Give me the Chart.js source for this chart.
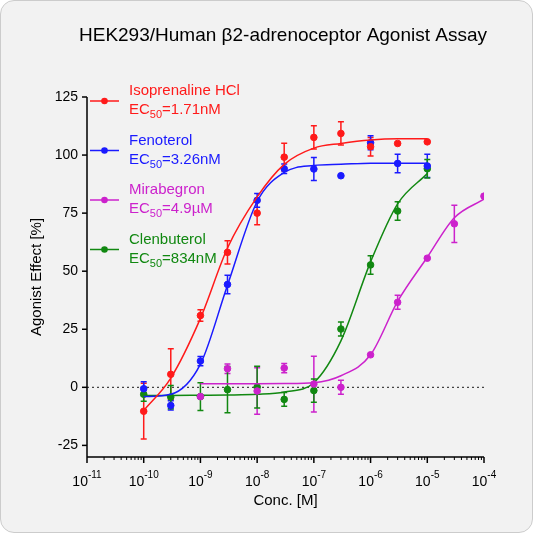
<!DOCTYPE html><html><head><script src="https://cdn.jsdelivr.net/npm/chart.js@4/dist/chart.umd.min.js"></script>
<style>body{margin:0;background:#fff}#w{width:531px;height:531px;border:1px solid #ccc;border-radius:14px;background:#f2f2f2;overflow:hidden}</style></head><body><div id="w"><canvas id="c" width="531" height="531"></canvas></div><script>
const doses=[1e-10,3e-10,1e-9,3e-9,1e-8,3e-8,1e-7,3e-7,1e-6,3e-6,1e-5];
const mDoses=[1e-9,3e-9,1e-8,3e-8,1e-7,3e-7,1e-6,3e-6,1e-5,3e-5,1e-4];
const isoY=[-10.3,5.6,30.9,58.1,75,99.1,107.6,109.3,103.6,105,105.7];
const isoE=[12,11,2.5,5,5,6,5,5,4,0,0];
const fenY=[-0.6,-7.8,11.3,44.3,80.5,94.1,94,91.1,105.3,96.4,95.3];
const fenE=[3,2,2,4,3,2,5,0,3,4,5];
const mirY=[-4,8,-1.6,8.3,1.4,0,14,36.6,55.6,70.4,82.3];
const mirE=[0,2,10,2,12,3,0,3,0,8,0];
const clnY=[-3,-4.2,-4,-1,0.1,-5.2,-1.4,25.1,52.7,75.9,94.1];
const clnE=[3,5,6,10,9,3,5,3,4,4,4];
// fitted curves
const isoFit=[-10,4,29.7,60,82,96,103,105,106.5,107,107];
const fenFit=[-4,-3,10,44,80,92.5,95.5,96,96.5,96.5,96.5];
const clnFit=[-3.5,-3.5,-3.4,-3.3,-3,-2,2,20,54,79,92];
const mirFit=[1.5,1.5,1.5,1.6,2,5,14,37,56,73,81];
const xTicks=[1e-11,1e-10,1e-9,1e-8,1e-7,1e-6,1e-5,1e-4];
const yTicks=[-25,0,25,50,75,100,125];
const series=[
 {name:'Isoprenaline HCl',ec:'=1.71nM',c:'#ff1a1a',x:doses,y:isoY,e:isoE,f:isoFit},
 {name:'Fenoterol',ec:'=3.26nM',c:'#1a1aff',x:doses,y:fenY,e:fenE,f:fenFit},
 {name:'Mirabegron',ec:'=4.9µM',c:'#cc22cc',x:mDoses,y:mirY,e:mirE,f:mirFit},
 {name:'Clenbuterol',ec:'=834nM',c:'#118811',x:doses,y:clnY,e:clnE,f:clnFit}];
const ds=[];
series.forEach(s=>{
 ds.push({type:'line',data:s.x.map((v,i)=>({x:v,y:s.f[i]})),borderColor:s.c,borderWidth:1.5,pointRadius:0,cubicInterpolationMode:'monotone',fill:false});
 ds.push({type:'scatter',data:s.x.map((v,i)=>({x:v,y:s.y[i]})),backgroundColor:s.c,borderColor:s.c,pointRadius:3.3,err:s.e});
});
const F='Liberation Sans, Arial, sans-serif';
const plug={id:'p',
 beforeDatasetsDraw(ch){const {ctx,scales:{x,y}}=ch;ctx.save();ctx.setLineDash([2,3]);ctx.strokeStyle='#444';ctx.lineWidth=1.2;ctx.beginPath();ctx.moveTo(x.left,y.getPixelForValue(0));ctx.lineTo(x.right,y.getPixelForValue(0));ctx.stroke();ctx.restore();
  ch.data.datasets.forEach(d=>{if(!d.err)return;ctx.save();ctx.strokeStyle=d.borderColor;ctx.lineWidth=1.5;d.data.forEach((p,i)=>{const e=d.err[i];if(!e)return;const px=x.getPixelForValue(p.x),a=y.getPixelForValue(p.y+e),b=y.getPixelForValue(p.y-e);ctx.beginPath();ctx.moveTo(px,a);ctx.lineTo(px,b);ctx.moveTo(px-3,a);ctx.lineTo(px+3,a);ctx.moveTo(px-3,b);ctx.lineTo(px+3,b);ctx.stroke();});ctx.restore();});},
 afterDraw(ch){const {ctx,scales:{x,y}}=ch;ctx.save();ctx.strokeStyle='#000';ctx.lineWidth=1.5;ctx.fillStyle='#000';
  ctx.beginPath();ctx.moveTo(x.left,y.top);ctx.lineTo(x.left,y.bottom);ctx.moveTo(x.left,y.bottom);ctx.lineTo(x.right,y.bottom);ctx.stroke();
  ctx.font='14px '+F;ctx.textAlign='right';ctx.textBaseline='middle';
  yTicks.forEach(t=>{const py=y.getPixelForValue(t);ctx.beginPath();ctx.moveTo(x.left-5,py);ctx.lineTo(x.left,py);ctx.stroke();ctx.fillText(String(t),x.left-9,py);});
  ctx.lineWidth=1;
  for(let k=-11;k<-4;k++)for(let m=2;m<10;m++){const px=x.getPixelForValue(m*Math.pow(10,k));ctx.beginPath();ctx.moveTo(px,y.bottom);ctx.lineTo(px,y.bottom+3);ctx.stroke();}
  ctx.lineWidth=1.5;
  xTicks.forEach(t=>{const px=x.getPixelForValue(t);ctx.beginPath();ctx.moveTo(px,y.bottom);ctx.lineTo(px,y.bottom+6);ctx.stroke();
   const ex=String(Math.round(Math.log10(t)));ctx.font='14px '+F;ctx.textAlign='left';ctx.textBaseline='alphabetic';const w1=ctx.measureText('10').width;ctx.font='10px '+F;const w2=ctx.measureText(ex).width;const x0=px-(w1+w2)/2;ctx.font='14px '+F;ctx.fillText('10',x0,y.bottom+29);ctx.font='10px '+F;ctx.fillText(ex,x0+w1,y.bottom+21);});
  ctx.font='15px '+F;ctx.textAlign='center';ctx.fillText('Conc. [M]',(x.left+x.right)/2,y.bottom+48);
  ctx.save();ctx.translate(40,(y.top+y.bottom)/2);ctx.rotate(-Math.PI/2);ctx.fillText('Agonist Effect [%]',0,0);ctx.restore();
  ctx.font='19px '+F;ctx.fillText('HEK293/Human β2-adrenoceptor Agonist Assay',282,40);
  series.forEach((s,i)=>{const ty=94+i*49.5;ctx.strokeStyle=s.c;ctx.fillStyle=s.c;ctx.lineWidth=1.5;ctx.beginPath();ctx.moveTo(89,ty+6);ctx.lineTo(118,ty+6);ctx.stroke();ctx.beginPath();ctx.arc(103.5,ty+6,3.3,0,7);ctx.fill();
   ctx.textAlign='left';ctx.textBaseline='alphabetic';ctx.font='15px '+F;ctx.fillText(s.name,128,ty);ctx.fillText('EC',128,ty+19);const w=ctx.measureText('EC').width;ctx.font='11px '+F;ctx.fillText('50',128+w,ty+23);const w2=ctx.measureText('50').width;ctx.font='15px '+F;ctx.fillText(s.ec,128+w+w2,ty+19);});
  ctx.restore();}};
new Chart(document.getElementById('c'),{data:{datasets:ds},plugins:[plug],options:{responsive:false,animation:false,
 layout:{padding:{top:96,right:48,left:0,bottom:0}},plugins:{legend:{display:false},tooltip:{enabled:false}},
 scales:{x:{type:'logarithmic',min:1e-11,max:1e-4,grid:{display:false},border:{display:false},ticks:{display:false},afterFit(s){s.height=75;}},
  y:{min:-30,max:125,grid:{display:false},border:{display:false},ticks:{display:false},afterFit(s){s.width=86;}}}}});
</script></body></html>
